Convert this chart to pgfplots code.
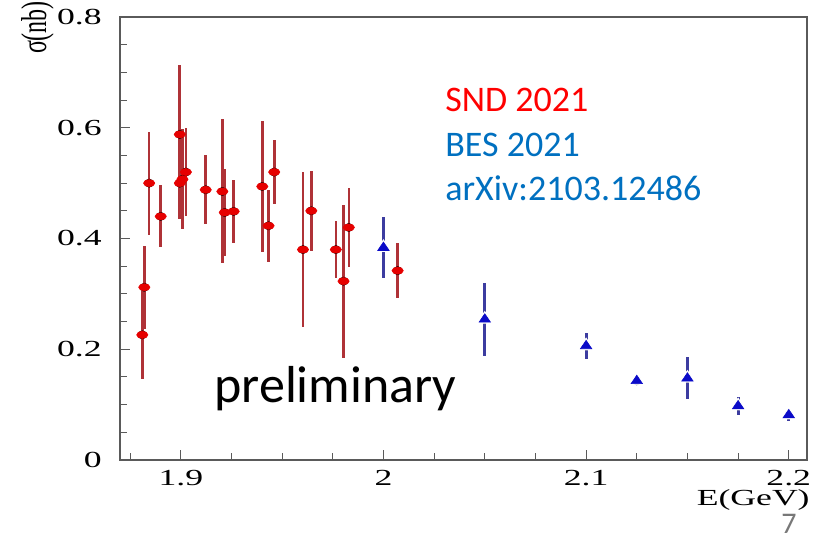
\documentclass[border=0pt]{standalone}
\usepackage{pgfplots}
\pgfplotsset{compat=1.18}
\usepackage{pgfplotstable}
\usepackage{graphicx}
\usepackage{fontspec}
\setmainfont{Liberation Serif}
\newfontfamily\rootfont[FakeStretch=1.55]{Liberation Serif}
\newfontfamily\calib{Carlito}
\newcommand\tickfont{\rootfont\fontsize{11.5}{12}\selectfont}

\definecolor{sndred}{RGB}{230,0,0}
\definecolor{sndbar}{RGB}{175,50,55}
\definecolor{besblue}{RGB}{10,10,200}
\definecolor{besbar}{RGB}{60,60,160}
\definecolor{txtred}{RGB}{255,0,0}
\definecolor{txtblue}{RGB}{0,112,192}
\definecolor{axgray}{RGB}{90,90,90}
\definecolor{pagegray}{RGB}{120,120,120}

\pgfplotstableread{
x y ey
1.8810 0.226 0.080
1.8820 0.312 0.075
1.8844 0.500 0.093
1.8901 0.440 0.056
1.8995 0.588 0.125
1.8995 0.500 0.065
1.9008 0.507 0.090
1.9025 0.520 0.080
1.9123 0.488 0.062
1.9205 0.485 0.130
1.9217 0.447 0.078
1.9261 0.449 0.057
1.9402 0.494 0.118
1.9433 0.423 0.065
1.9461 0.520 0.057
1.9603 0.380 0.140
1.9644 0.450 0.072
1.9765 0.380 0.052
1.9803 0.323 0.138
1.9829 0.420 0.071
2.0070 0.342 0.049
}\snd

\pgfplotstableread{
x y ey
2.000 0.3835 0.055
2.050 0.254 0.066
2.100 0.206 0.024
2.125 0.143 0.008
2.150 0.1475 0.038
2.175 0.0975 0.016
2.200 0.0813 0.011
}\bes

\begin{document}
\begin{tikzpicture}
\path[use as bounding box] (-60pt,-39pt) rectangle (356.5pt,230pt);
\begin{axis}[
  at={(0pt,0pt)}, anchor=south west,
  scale only axis, width=343.5pt, height=221.5pt,
  xmin=1.870, xmax=2.209, ymin=0, ymax=0.8,
  axis line style={axgray, line width=0.6pt},
  xtick={1.9,2,2.1,2.2}, xticklabels={1.9,2,2.1,2.2},
  ytick={0,0.2,0.4,0.6,0.8}, yticklabels={0,0.2,0.4,0.6,0.8},
  minor xtick={1.875,1.925,1.95,1.975,2.025,2.05,2.075,2.125,2.15,2.175},
  minor ytick={0.05,0.1,0.15,0.25,0.3,0.35,0.45,0.5,0.55,0.65,0.7,0.75},
  xtick pos=bottom, ytick pos=left, tick align=inside,
  major tick length=5pt, minor tick length=3.5pt,
  tick style={axgray, line width=0.5pt},
  xticklabel style={font=\tickfont, inner sep=0pt, anchor=north, yshift=-5pt},
  yticklabel style={font=\tickfont, inner sep=0pt, anchor=east, xshift=-9pt},
]
% SND error bars
\addplot[only marks, mark=none,
  error bars/.cd, y dir=both, y explicit, error mark=none,
  error bar style={draw=sndbar, line width=1.3pt}]
  table[x=x, y=y, y error=ey]{\snd};
% SND markers
\addplot[only marks, mark=*, mark size=1.8pt,
  mark options={xscale=1.57, fill=sndred, draw=sndred, line width=0.3pt}]
  table[x=x, y=y]{\snd};
% BES error bars
\addplot[only marks, mark=none,
  error bars/.cd, y dir=both, y explicit, error mark=none,
  error bar style={draw=besbar, line width=1.4pt}]
  table[x=x, y=y, y error=ey]{\bes};
% gap around markers
\addplot[only marks, mark=triangle*, mark size=4.6pt,
  mark options={fill=white, draw=white, yscale=0.85}]
  table[x=x, y=y]{\bes};
% BES markers
\addplot[only marks, mark=triangle*, mark size=3.3pt,
  mark options={fill=besblue, draw=besblue, yscale=0.85, line width=0.3pt}]
  table[x=x, y=y]{\bes};
\end{axis}

\node[anchor=base west, inner sep=0pt, text=txtred, font=\calib\fontsize{18}{18}\selectfont] at (162.5pt,174.2pt) {SND 2021};
\node[anchor=base west, inner sep=0pt, text=txtblue, font=\calib\fontsize{18}{18}\selectfont] at (162.5pt,151.7pt) {BES 2021};
\node[anchor=base west, inner sep=0pt, text=txtblue, font=\calib\fontsize{18}{18}\selectfont] at (162.5pt,130pt) {arXiv:2103.12486};
\node[anchor=base west, inner sep=0pt, font=\calib\fontsize{26}{26}\selectfont] at (47pt,29pt) {preliminary};
\node[anchor=base east, inner sep=0pt, font=\tickfont] at (345pt,-22.8pt) {E(GeV)};
\node[anchor=base east, inner sep=0pt, text=pagegray, font=\calib\fontsize{15}{15}\selectfont] at (338.5pt,-36.8pt) {7};
\node[rotate=90, inner sep=0pt, font=\fontsize{12}{13}\selectfont] at (-41.25pt,216.25pt) {\scalebox{1}[1.5]{σ(nb)}};
\end{tikzpicture}
\end{document}
